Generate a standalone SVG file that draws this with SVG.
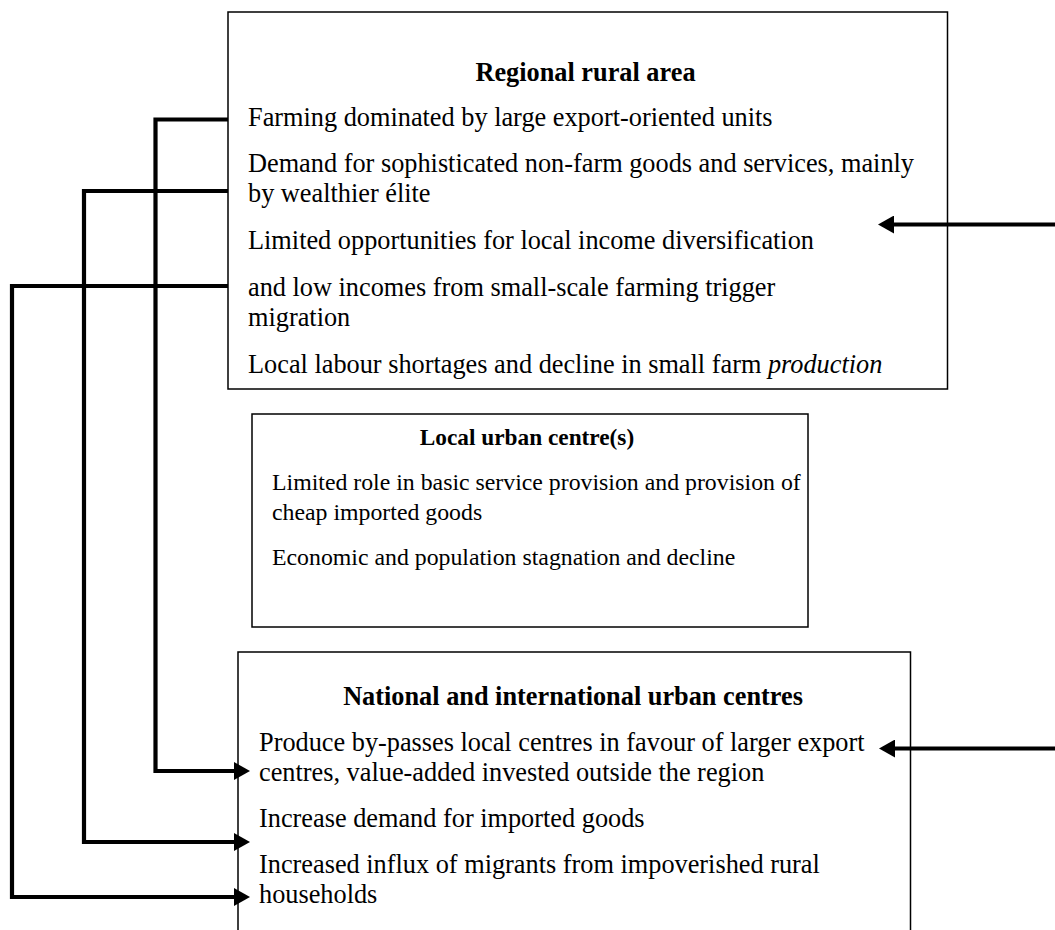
<svg xmlns="http://www.w3.org/2000/svg" width="1055" height="930" viewBox="0 0 1055 930">
  <style>
    .box { fill: #ffffff; stroke: #000000; stroke-width: 1.5; }
    .t { font-family: "Liberation Serif", "Times New Roman", serif; font-size: 26.3px; fill: #000000; }
    .h { font-family: "Liberation Serif", "Times New Roman", serif; font-size: 26.3px; font-weight: bold; fill: #000000; text-anchor: middle; }
    .small .t { font-size: 23.8px; }
    .small .h { font-size: 23.3px; }
    .wire { fill: none; stroke: #000000; stroke-width: 4.2; stroke-linejoin: miter; stroke-linecap: butt; }
  </style>
  <defs>
    <!-- solid triangular head placed beyond the end of the line -->
    <marker id="head" viewBox="0 0 16 18" refX="0" refY="9" markerWidth="16" markerHeight="18" markerUnits="userSpaceOnUse" orient="auto">
      <path d="M0,0 L16,9 L0,18 Z" fill="#000000"/>
    </marker>
  </defs>

  <rect width="1055" height="930" fill="#ffffff"/>

  <!-- Regional rural area -->
  <g id="regional-rural-area">
    <rect class="box" x="228" y="12" width="719.5" height="377"/>
    <text class="h" x="585.5" y="81">Regional rural area</text>
    <text class="t" x="248" y="126">Farming dominated by large export-oriented units</text>
    <text class="t" x="248" y="171.5">Demand for sophisticated non-farm goods and services, mainly</text>
    <text class="t" x="248" y="202">by wealthier élite</text>
    <text class="t" x="248" y="248.5">Limited opportunities for local income diversification</text>
    <text class="t" x="248" y="296">and low incomes from small-scale farming trigger</text>
    <text class="t" x="248" y="326">migration</text>
    <text class="t" x="248" y="373">Local labour shortages and decline in small farm <tspan font-style="italic">production</tspan></text>
  </g>

  <!-- Local urban centre(s) -->
  <g id="local-urban-centres" class="small">
    <rect class="box" x="252" y="414" width="556" height="213"/>
    <text class="h" x="527" y="445">Local urban centre(s)</text>
    <text class="t" x="272" y="490">Limited role in basic service provision and provision of</text>
    <text class="t" x="272" y="520">cheap imported goods</text>
    <text class="t" x="272" y="565">Economic and population stagnation and decline</text>
  </g>

  <!-- National and international urban centres (open at the bottom edge) -->
  <g id="national-international-urban-centres">
    <path class="box" d="M238,931 V652 H910.5 V931"/>
    <text class="h" x="573" y="705">National and international urban centres</text>
    <text class="t" x="259" y="750.5">Produce by-passes local centres in favour of larger export</text>
    <text class="t" x="259" y="780.5">centres, value-added invested outside the region</text>
    <text class="t" x="259" y="826.5">Increase demand for imported goods</text>
    <text class="t" x="259" y="872.5">Increased influx of migrants from impoverished rural</text>
    <text class="t" x="259" y="902.5">households</text>
  </g>

  <!-- Connectors -->
  <g id="connectors">
    <path class="wire" d="M228,119.5 H155.5 V771 H234" marker-end="url(#head)"/>
    <path class="wire" d="M228,191 H84 V842 H234" marker-end="url(#head)"/>
    <path class="wire" d="M228,286 H12 V897 H234" marker-end="url(#head)"/>
    <path class="wire" d="M1060,224.5 H894" marker-end="url(#head)"/>
    <path class="wire" d="M1060,748.5 H895" marker-end="url(#head)"/>
  </g>
</svg>
